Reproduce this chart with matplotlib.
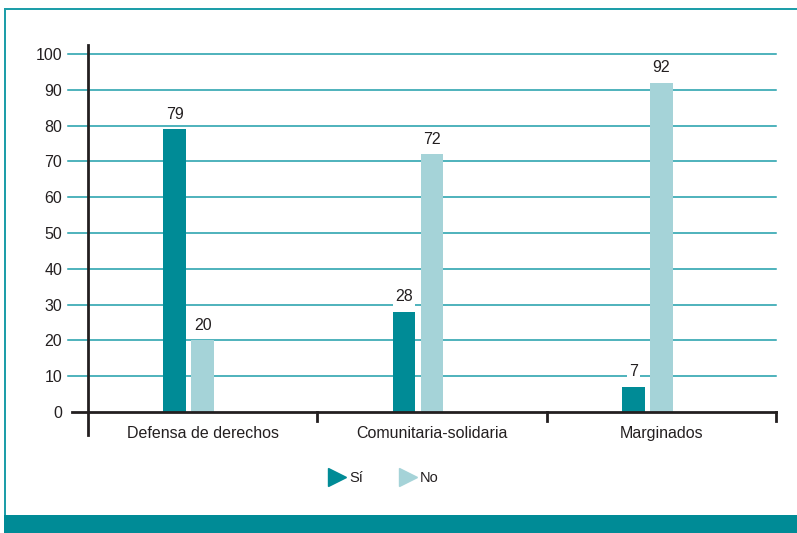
import matplotlib.pyplot as plt
from matplotlib.lines import Line2D
from matplotlib.patches import Rectangle
import numpy as np

plt.rcParams['font.family'] = ['Liberation Sans', 'DejaVu Sans']

# Data
categories = ["Defensa de derechos", "Comunitaria-solidaria", "Marginados"]
si_values = [79, 28, 7]
no_values = [20, 72, 92]
y_ticks = [0, 10, 20, 30, 40, 50, 60, 70, 80, 90, 100]

dark_teal = "#008B96"
light_teal = "#A5D3D8"
grid_teal = "#1E9EA9"
text_col = "#231F20"

fig = plt.figure(figsize=(7.97, 5.33), dpi=100, facecolor='white')
ax = fig.add_axes([88 / 797, 1 - 412 / 533, 688 / 797, 358 / 533])

centers = np.arange(len(categories)) + 0.5
bar_w = 0.1
ax.bar(centers - 0.122, si_values, width=bar_w, color=dark_teal, zorder=3)
ax.bar(centers, no_values, width=bar_w, color=light_teal, zorder=3)

# value labels
for xc, v in zip(centers - 0.122, si_values):
    ax.annotate(str(v), (xc, v), xytext=(0, 5.5), textcoords='offset points',
                ha='center', va='bottom', fontsize=11.5, color=text_col, zorder=4,
                bbox=dict(facecolor='white', edgecolor='none', pad=1.5))
for xc, v in zip(centers, no_values):
    ax.annotate(str(v), (xc, v), xytext=(0, 5.5), textcoords='offset points',
                ha='center', va='bottom', fontsize=11.5, color=text_col, zorder=4,
                bbox=dict(facecolor='white', edgecolor='none', pad=1.5))

ax.set_xlim(0, 3)
ax.set_ylim(0, 100)

# gridlines
for t in y_ticks[1:]:
    ax.plot([-0.087, 3], [t, t], color=grid_teal, lw=1.1, clip_on=False, zorder=1)

for s in ax.spines.values():
    s.set_visible(False)

# axis lines
ax.plot([0, 0], [-6.4, 102.5], color=text_col, lw=2, clip_on=False, zorder=5)
ax.plot([-0.07, 3], [0, 0], color=text_col, lw=2, clip_on=False, zorder=5)
for xt in [1, 2, 3]:
    ax.plot([xt, xt], [0, -2.4], color=text_col, lw=2, clip_on=False, zorder=5)

ax.set_yticks(y_ticks)
ax.set_yticklabels([str(t) for t in y_ticks], fontsize=11.5, color=text_col)
ax.tick_params(axis='y', length=0, pad=18.5)
ax.set_xticks(centers)
ax.set_xticklabels(categories, fontsize=11.5, color=text_col)
ax.tick_params(axis='x', length=0, pad=10)

# legend
handles = [
    Line2D([], [], marker='>', color=dark_teal, linestyle='none', markersize=12.5),
    Line2D([], [], marker='>', color=light_teal, linestyle='none', markersize=12.5),
]
fig.legend(handles, ["Sí", "No"], loc='center', bbox_to_anchor=(0.482, 0.103),
           ncol=2, frameon=False, fontsize=10.5, handlelength=1.0,
           handletextpad=0.3, columnspacing=2.6, labelcolor=text_col)

# page frame
fig.add_artist(Rectangle((4 / 797, 0), 2 / 797, 1 - 8 / 533, transform=fig.transFigure,
                         facecolor=grid_teal, edgecolor='none'))
fig.add_artist(Rectangle((4 / 797, 1 - 10 / 533), 1, 2 / 533, transform=fig.transFigure,
                         facecolor=grid_teal, edgecolor='none'))
fig.add_artist(Rectangle((4 / 797, 0), 1, 18 / 533, transform=fig.transFigure,
                         facecolor=dark_teal, edgecolor='none'))

fig.savefig("out.png", dpi=100, facecolor='white')
